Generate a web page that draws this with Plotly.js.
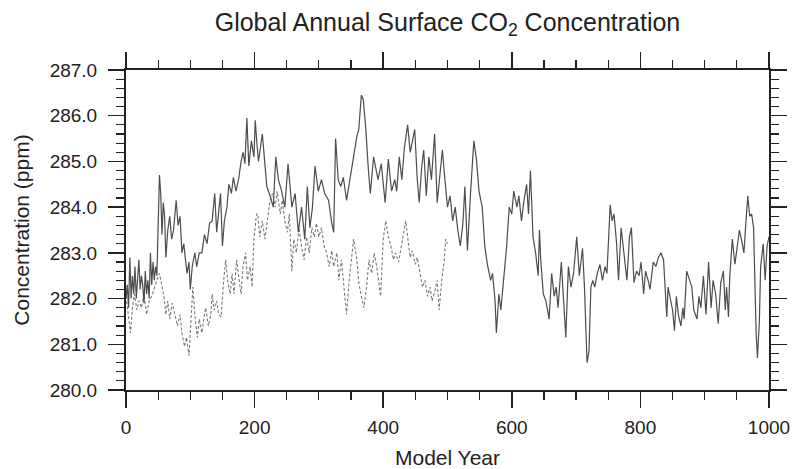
<!DOCTYPE html>
<html>
<head>
<meta charset="utf-8">
<script src="https://cdn.plot.ly/plotly-3.0.1.min.js"></script>
<style>html,body{margin:0;padding:0;background:#fff;}#chart{width:792px;height:469px;}</style>
</head>
<body>
<div id="chart"></div>
<script>
// Solid series: years 0-1000
const yearsA = [0,2,4,6,8,10,12,14,16,18,20,22,24,26,28,30,32,34,36,38,40,42,44,46,48,50,52,54,56,58,60,62,65,68,71,74,78,81,84,87,90,92,95,98,100,103,107,110,114,118,122,126,130,134,138,141,147,150,153,157,160,164,167,171,175,179,182,185,188,191,195,199,201,203,206,212,216,219,224,229,233,237,242,247,252,258,263,268,273,278,282,286,290,294,299,304,309,315,320,323,326,330,334,338,343,348,353,359,362,366,369,373,377,380,385,388,392,397,403,408,413,418,421,425,429,433,438,442,445,449,453,456,460,463,467,471,475,480,484,488,492,496,500,504,508,512,516,520,524,527,531,536,541,545,549,554,558,562,567,570,574,576,580,583,587,592,596,600,603,608,611,615,619,623,626,629,633,637,641,643,645,649,653,656,658,662,666,669,672,677,680,684,688,692,696,701,705,710,713,715,717,720,723,726,729,733,737,741,745,748,750,753,756,759,763,766,770,773,776,779,783,786,790,794,798,801,805,808,812,815,820,824,828,832,836,838,841,843,846,850,853,856,859,863,866,868,872,876,880,883,888,891,894,898,902,906,910,913,917,921,925,929,932,934,937,939,943,947,951,954,957,961,964,967,970,973,976,978,980,982,985,987,991,994,997,1000];
const co2A = [282.0,282.3,281.8,282.9,282.0,282.5,282.1,282.7,282.0,282.4,282.85,282.2,282.5,282.3,281.9,282.6,282.1,282.4,282.0,283.0,282.3,282.8,282.4,282.7,282.5,283.6,284.7,284.3,283.4,284.1,283.8,282.9,283.5,283.8,283.3,283.5,284.15,283.6,283.8,283.0,283.2,282.9,282.55,282.8,282.2,282.7,283.0,282.7,283.0,283.0,283.4,283.2,283.65,283.7,284.3,283.45,284.3,283.15,283.7,284.0,284.5,284.3,284.65,284.35,284.6,285.0,285.2,284.95,285.95,284.9,285.45,285.1,285.9,285.5,285.0,285.6,284.9,284.45,284.25,284.0,285.1,284.6,284.35,284.0,284.95,284.0,284.3,283.45,284.0,283.3,284.45,283.55,284.0,284.9,284.35,284.6,284.3,284.15,283.65,283.45,285.5,284.6,284.45,284.65,284.15,284.6,285.1,285.55,285.7,286.45,286.35,285.7,284.8,284.3,285.1,284.9,284.6,284.95,284.1,285.05,284.35,284.6,284.35,285.1,284.6,285.3,285.8,285.2,285.4,285.7,284.6,284.1,284.9,285.25,284.25,285.1,284.6,285.6,284.1,284.65,285.25,284.6,284.0,284.25,283.7,284.0,283.5,283.15,283.65,284.45,283.05,284.35,285.45,285.05,284.35,284.0,283.15,282.75,282.4,282.55,281.95,281.25,282.1,281.75,282.35,283.15,284.0,283.85,284.35,284.0,284.25,283.7,284.15,284.5,283.85,284.8,283.35,283.0,282.5,283.5,282.85,282.1,281.95,281.65,281.55,282.55,282.05,282.25,281.8,282.8,282.05,281.15,282.7,282.25,282.55,283.35,282.5,283.1,282.25,281.1,280.6,280.85,282.25,282.4,282.25,282.55,282.75,282.4,282.7,282.55,283.3,284.05,283.7,283.85,283.2,282.4,283.55,283.15,282.85,282.4,283.35,283.55,282.35,282.6,282.5,282.8,282.1,282.6,282.4,282.2,282.8,282.7,282.9,283.0,282.85,282.25,281.6,282.25,282.05,281.75,281.3,282.05,281.65,281.4,281.8,281.55,282.6,282.4,282.25,281.75,281.55,282.05,281.8,282.5,281.65,282.8,281.8,282.4,282.1,281.45,282.35,282.6,281.75,282.25,281.6,282.5,283.3,282.75,283.15,283.5,283.3,283.0,283.65,284.25,283.8,283.85,283.55,282.25,281.25,280.7,281.5,282.7,283.2,282.4,283.15,283.35,283.3];

// Dashed series: years 0-500
const yearsB = [0,3,5,7,10,13,17,20,24,28,32,36,40,44,48,52,55,59,62,65,68,72,76,80,84,87,91,94,98,101,104,107,111,114,118,121,124,128,132,134,137,141,144,148,151,155,158,162,165,168,172,176,179,182,186,189,193,196,199,203,205,208,212,216,220,224,228,232,235,240,243,247,251,254,258,261,265,269,273,277,281,285,289,293,296,300,304,308,312,316,320,323,328,331,335,339,343,347,351,354,359,362,366,370,374,378,382,386,390,393,396,400,404,408,412,416,419,424,428,431,435,438,442,445,450,453,457,461,465,469,473,476,481,484,487,491,495,497,500];
const co2B = [282.05,281.65,281.45,281.25,281.8,282.1,281.75,281.95,281.8,282.1,281.65,281.95,282.05,282.25,282.4,282.55,282.35,282.05,281.65,281.95,281.55,281.9,281.65,281.4,281.65,281.25,280.95,281.15,280.75,281.55,282.25,281.65,281.15,281.55,281.25,281.55,281.8,281.4,281.65,282.1,281.75,281.95,281.65,281.6,282.25,282.85,282.4,282.1,282.55,282.1,282.85,282.4,282.1,282.7,283.0,282.4,282.7,282.25,283.3,283.85,283.85,283.35,283.7,283.3,283.7,284.15,284.3,284.0,284.35,283.85,284.15,283.7,283.45,283.85,282.6,283.3,283.0,283.55,283.15,282.85,283.35,283.0,283.55,283.35,283.65,283.35,283.55,283.15,283.0,282.7,283.05,282.7,283.0,282.4,282.85,282.25,281.65,282.4,282.85,283.3,282.85,282.35,282.05,281.8,282.25,282.85,282.55,283.0,282.7,282.4,282.05,283.3,283.7,283.35,283.15,282.85,283.0,282.8,283.15,283.35,283.7,283.35,282.9,283.05,282.75,282.9,282.55,282.25,282.4,282.05,282.25,281.95,282.2,282.4,281.75,282.4,282.85,283.3,283.2];

const xTickVals = [0,200,400,600,800,1000];
const xTickText = ['0','200','400','600','800','1000'];
const yTickVals = [280,281,282,283,284,285,286,287];
const yTickText = ['280.0','281.0','282.0','283.0','284.0','285.0','286.0','287.0'];

const FONT = '"Liberation Sans", Arial, Helvetica, sans-serif';

const traces = [
  {x: yearsB, y: co2B, type: 'scatter', mode: 'lines', name: 'dashed',
   line: {color: '#7a7a7a', width: 1.1, dash: '3px,2px'}, hoverinfo: 'skip'},
  {x: yearsA, y: co2A, type: 'scatter', mode: 'lines', name: 'solid',
   line: {color: '#4d4d4d', width: 1.2}, hoverinfo: 'skip'}
];

const axisCommon = {
  showgrid: false, zeroline: false, showline: true, linecolor: '#222', linewidth: 2,
  ticks: 'outside', tickcolor: '#222', tickwidth: 1.5, ticklen: 16, mirror: 'allticks',
  tickfont: {family: FONT, size: 19, color: '#222'}
};

const layout = {
  width: 792, height: 469,
  margin: {l: 126, r: 23, t: 70, b: 79},
  paper_bgcolor: '#fff', plot_bgcolor: '#fff',
  showlegend: false,
  font: {family: FONT, color: '#222'},
  title: {text: 'Global Annual Surface CO<sub>2</sub> Concentration',
          font: {family: FONT, size: 25, color: '#222'},
          x: 0.5, xref: 'paper', xanchor: 'center', y: 0.953, yref: 'container', yanchor: 'middle'},
  xaxis: Object.assign({}, axisCommon, {
    range: [0, 1000], tickmode: 'array', tickvals: xTickVals, ticktext: xTickText,
    ticklabelstandoff: 3,
    minor: {dtick: 50, tick0: 0, ticks: 'outside', ticklen: 8, tickwidth: 1.2, tickcolor: '#222'},
    title: {text: 'Model Year', font: {family: FONT, size: 21, color: '#222'}, standoff: 14}
  }),
  yaxis: Object.assign({}, axisCommon, {
    range: [280, 287], tickmode: 'array', tickvals: yTickVals, ticktext: yTickText,
    ticklabelstandoff: 7,
    minor: {dtick: 0.2, tick0: 280, ticks: 'outside', ticklen: 8, tickwidth: 1.2, tickcolor: '#222'},
    title: {text: 'Concentration (ppm)', font: {family: FONT, size: 21, color: '#222'}, standoff: 14}
  })
};

Plotly.newPlot('chart', traces, layout, {displayModeBar: false, staticPlot: true});
</script>
</body>
</html>
